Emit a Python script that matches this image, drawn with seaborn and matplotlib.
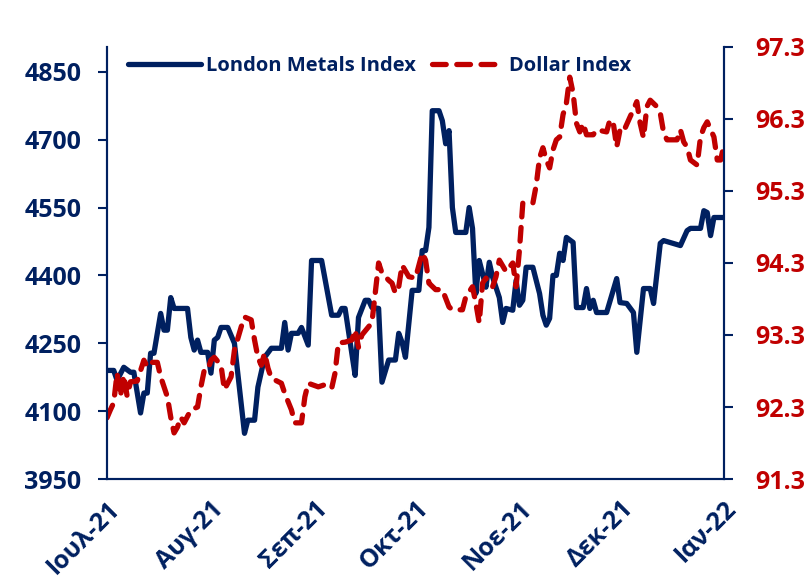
import pandas as pd
import matplotlib
matplotlib.use("Agg")
import matplotlib.pyplot as plt
import seaborn as sns

# values (days counted from 1 Jul 2021)
start = "2021-07-01"
lme_days = [0, 2, 3, 5, 7, 8, 10, 11, 12, 13, 14, 16, 17, 18, 19, 20, 24, 25, 26, 27,
            28, 30, 31, 32, 33, 34, 36, 38, 41, 42, 44, 45, 47, 49, 52, 53, 54, 55, 57, 58,
            60, 61, 63, 64, 67, 69, 70, 71, 73, 74, 75, 77, 78, 79, 81, 82, 84, 86, 87, 88,
            89, 91, 93, 94, 95, 96, 97, 99, 100, 101, 102, 103, 104, 107, 108, 109, 110, 111, 112, 113,
            114, 115, 117, 118, 119, 121, 122, 123, 124, 125, 127, 129, 130, 131, 132, 133, 134, 135, 136, 137,
            139, 140, 142, 143, 144, 145, 146, 149, 152, 153, 155, 157, 158, 160, 162, 163, 165, 166, 171, 173,
            174, 177, 178, 179, 180, 181, 184]
lme_values = [4190, 4190, 4168, 4197, 4186, 4186, 4096, 4140, 4140, 4228, 4228, 4316, 4279, 4279, 4351, 4327, 4327, 4263, 4235, 4257,
              4230, 4230, 4184, 4257, 4263, 4285, 4285, 4250, 4051, 4080, 4080, 4153, 4219, 4239, 4239, 4296, 4235, 4272, 4272, 4285,
              4246, 4433, 4433, 4433, 4312, 4312, 4327, 4327, 4228, 4179, 4307, 4345, 4345, 4329, 4327, 4164, 4213, 4213, 4272, 4252,
              4219, 4367, 4367, 4455, 4455, 4506, 4764, 4764, 4742, 4691, 4720, 4550, 4495, 4495, 4550, 4504, 4360, 4433, 4404, 4374,
              4429, 4396, 4351, 4296, 4327, 4323, 4389, 4334, 4345, 4418, 4418, 4360, 4312, 4290, 4305, 4400, 4400, 4449, 4433, 4484,
              4473, 4329, 4329, 4371, 4327, 4345, 4318, 4318, 4393, 4340, 4338, 4318, 4230, 4371, 4371, 4338, 4471, 4477, 4466, 4499,
              4504, 4504, 4543, 4539, 4488, 4528, 4528]

dxy_days = [0, 1, 2, 3, 4, 5, 6, 7, 9, 11, 12, 13, 15, 16, 18, 19, 20, 21, 22, 23,
            25, 27, 28, 29, 30, 31, 32, 34, 35, 37, 38, 40, 41, 43, 44, 45, 46, 47, 48, 49,
            52, 53, 55, 56, 58, 59, 60, 63, 65, 67, 68, 69, 71, 73, 74, 75, 76, 79, 80, 81,
            82, 84, 85, 86, 87, 88, 90, 92, 94, 95, 96, 98, 100, 102, 103, 106, 107, 109, 110, 111,
            112, 113, 115, 116, 117, 119, 121, 122, 123, 124, 125, 127, 128, 129, 130, 131, 132, 133, 134, 135,
            136, 137, 138, 139, 140, 141, 142, 143, 145, 146, 149, 150, 151, 152, 153, 154, 156, 157, 158, 159,
            160, 161, 162, 164, 165, 166, 167, 170, 171, 172, 173, 174, 176, 177, 178, 179, 181, 182, 183, 184]
dxy_values = [92.15, 92.26, 92.36, 92.77, 92.45, 92.74, 92.45, 92.65, 92.66, 92.95, 92.86, 92.92, 92.92, 92.72, 92.44, 92.16, 91.94, 92.02, 92.16, 92.08,
              92.26, 92.30, 92.58, 92.81, 92.81, 92.95, 92.99, 92.88, 92.54, 92.72, 93.09, 93.41, 93.55, 93.51, 93.23, 92.99, 92.88, 93.05, 92.84, 92.70,
              92.63, 92.49, 92.26, 92.08, 92.08, 92.44, 92.63, 92.58, 92.61, 92.56, 92.77, 93.19, 93.20, 93.23, 93.37, 93.13, 93.30, 93.47, 93.88, 94.30,
              94.16, 94.06, 94.02, 93.88, 93.97, 94.27, 94.11, 94.09, 94.44, 94.34, 94.02, 93.93, 93.93, 93.69, 93.65, 93.65, 93.83, 93.97, 93.74, 93.47,
              94.02, 94.09, 93.97, 94.11, 94.34, 94.18, 94.30, 93.97, 94.48, 95.13, 95.13, 95.13, 95.38, 95.76, 95.90, 95.73, 95.62, 95.87, 96.01, 96.05,
              96.36, 96.52, 96.88, 96.66, 96.24, 96.12, 96.24, 96.08, 96.08, 96.15, 96.12, 96.29, 96.24, 95.91, 96.15, 96.12, 96.33, 96.43, 96.54, 96.24,
              96.04, 96.47, 96.56, 96.47, 96.38, 96.11, 96.01, 96.01, 96.15, 95.98, 95.91, 95.73, 95.66, 96.05, 96.18, 96.26, 96.05, 95.73, 95.73, 95.94]

month_ticks = ["2021-07-01", "2021-08-01", "2021-09-01", "2021-10-01", "2021-11-01", "2021-12-01", "2022-01-01"]
month_labels = ["Ιουλ-21", "Αυγ-21", "Σεπ-21", "Οκτ-21", "Νοε-21", "Δεκ-21", "Ιαν-22"]
left_ticks = [3950, 4100, 4250, 4400, 4550, 4700, 4850]
right_ticks = [91.3, 92.3, 93.3, 94.3, 95.3, 96.3, 97.3]

navy = "#002060"
red = "#C00000"

sns.set_style("white")
plt.rcParams["font.family"] = ["Open Sans", "DejaVu Sans"]
plt.rcParams["font.weight"] = "bold"

t0 = pd.Timestamp(start)
lme = pd.DataFrame({"date": t0 + pd.to_timedelta(lme_days, unit="D"), "value": lme_values})
dxy = pd.DataFrame({"date": t0 + pd.to_timedelta(dxy_days, unit="D"), "value": dxy_values})

fig = plt.figure(figsize=(8.12, 5.8), dpi=100)
ax = fig.add_axes([0.1318, 0.1741, 0.7598, 0.745])
ax2 = ax.twinx()

sns.lineplot(data=lme, x="date", y="value", ax=ax, color=navy, linewidth=3.8,
             label="London Metals Index", legend=False)
sns.lineplot(data=dxy, x="date", y="value", ax=ax2, color=red, linewidth=3.8,
             label="Dollar Index", legend=False)
ax2.lines[0].set_dashes((2.6, 2.0))
ax2.lines[0].set_dash_capstyle("round")

ax.set_xlim(pd.Timestamp("2021-07-01"), pd.Timestamp("2022-01-01"))
ax.set_ylim(3950, 4905)
ax2.set_ylim(91.3, 97.3)

ax.set_xticks(pd.to_datetime(month_ticks))
ax.set_xticklabels(month_labels, rotation=45, ha="right", va="top",
                   rotation_mode="anchor", fontsize=18, color=navy, fontweight="bold")
ax.set_yticks(left_ticks)
ax.set_yticklabels([str(v) for v in left_ticks], fontsize=18, color=navy, fontweight="bold")
ax2.set_yticks(right_ticks)
ax2.set_yticklabels([f"{v:.1f}" for v in right_ticks], fontsize=18, color=red, fontweight="bold")

ax.set_xlabel("")
ax.set_ylabel("")
ax2.set_ylabel("")

for a in (ax, ax2):
    a.spines["top"].set_visible(False)
    for s in ("left", "right", "bottom"):
        a.spines[s].set_color(navy)
        a.spines[s].set_linewidth(1.5)
ax.tick_params(axis="x", direction="out", length=6.5, width=1.5, color=navy, pad=6)
ax.tick_params(axis="y", direction="out", length=6.5, width=1.5, color=navy, pad=12)
ax2.tick_params(axis="y", direction="out", length=6.5, width=1.5, color=navy, pad=16)

h1, l1 = ax.get_legend_handles_labels()
h2, l2 = ax2.get_legend_handles_labels()
leg = ax.legend(h1 + h2, l1 + l2, loc="upper left", bbox_to_anchor=(0.005, 1.02), ncol=2,
                frameon=False, handlelength=3.6, columnspacing=0.8, handletextpad=0.25,
                prop={"weight": "bold", "size": 14.5})
for txt in leg.get_texts():
    txt.set_color(navy)

fig.savefig("out.png", dpi=100)
